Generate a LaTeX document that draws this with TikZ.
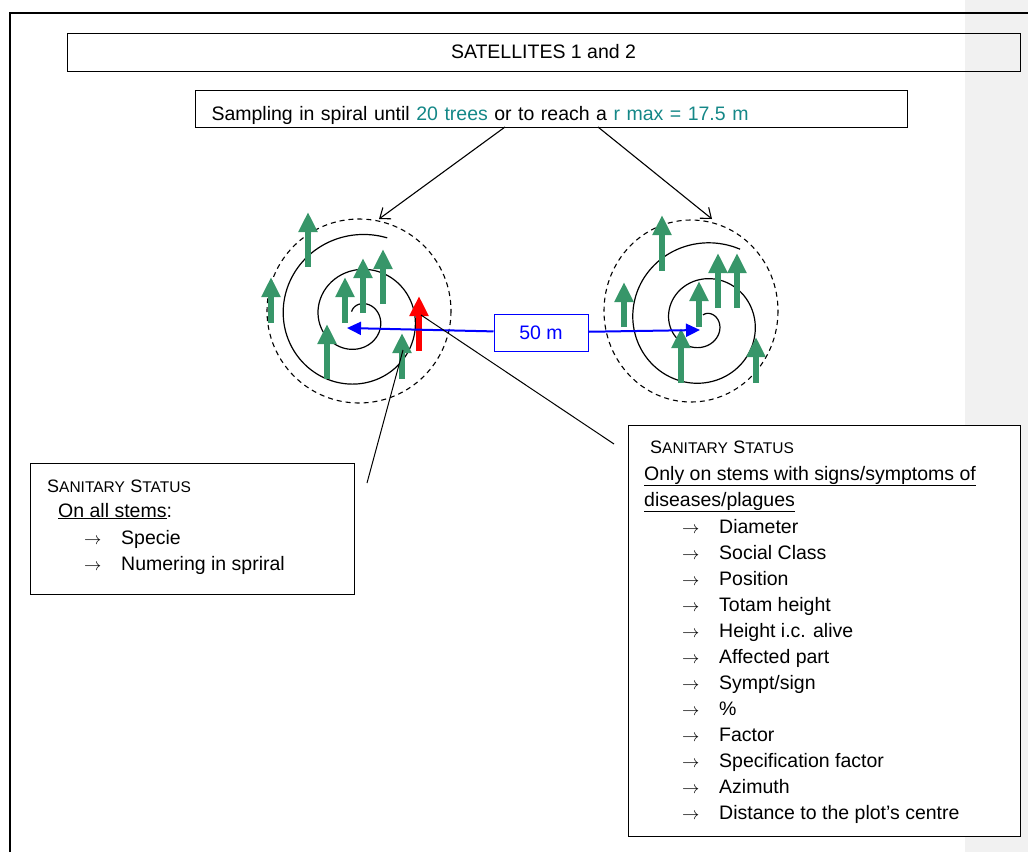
\documentclass[tikz,border=0pt]{standalone}
\usepackage{fontspec}
\setmainfont{Liberation Sans}
\usetikzlibrary{arrows.meta}
\definecolor{treegreen}{RGB}{55,150,105}
\definecolor{darkteal}{RGB}{20,135,135}
\definecolor{pagegrey}{RGB}{241,241,241}
\newcommand{\sanstat}{{\fontsize{18}{20}\selectfont S}{\fontsize{15.5}{20}\selectfont ANITARY} {\fontsize{18}{20}\selectfont S}{\fontsize{15.5}{20}\selectfont TATUS}}
\newcommand{\listarrow}{{\fontsize{17}{20}\selectfont$\rightarrow$}}
\tikzset{
  frame/.style={draw, line width=1pt, rectangle, inner sep=0pt},
  txt/.style={anchor=base west, inner sep=0pt},
  plotline/.style={dashed, dash pattern=on 5pt off 4pt, line width=1.1pt},
  spiral/.style={line width=1.2pt, smooth},
  tree/.style={line width=6pt, treegreen, -{Triangle[length=20pt,width=18pt]}},
  pointer/.style={line width=1.1pt, -{Straight Barb[length=9pt,width=14pt]}},
  distarrow/.style={line width=2pt, blue, -{Triangle[length=14pt,width=13pt]}},
  callout/.style={line width=1pt}
}
\begin{document}
\begin{tikzpicture}[x=1pt, y=-1pt, font=\fontsize{19.5}{26}\selectfont]
  \fill[pagegrey] (965,0) rectangle (1028,852);
  \useasboundingbox (0,0) rectangle (1028,852);
  \draw[line width=2.5pt] (10,852) -- (10,13) -- (1028,13);

  \node[frame, minimum width=953pt, minimum height=38pt] (title) at (543.5,52) {SATELLITES 1 and 2};
  \node[frame, anchor=north west, minimum width=710pt, minimum height=37pt, text width=680pt, inner xsep=16pt,
        text height=22pt, text depth=0pt] (sampling) at (195,90)
    {Sampling in spiral until \textcolor{darkteal}{20 trees} or to reach a \textcolor{darkteal}{r max = 17.5 m}};

  \coordinate (outA) at (505,127);
  \coordinate (outB) at (598,127);
  \coordinate (topA) at (379,219);
  \coordinate (topB) at (712,219);
  \draw[pointer] (outA) -- (topA);
  \draw[pointer] (outB) -- (topB);

  \draw[plotline] (359,311) circle[radius=92];
  \draw[plotline] (691,311) ellipse[x radius=87, y radius=91];
  \draw[spiral] plot[domain=225:1010, samples=150] ({358+(9+(\x-225)/360*35)*cos(\x)}, {318+(9+(\x-225)/360*35)*sin(\x)});
  \draw[spiral] plot[domain=270:1017, samples=150] ({703+(7+(\x-270)/360*36)*cos(\x)}, {322+(7+(\x-270)/360*36)*sin(\x)});

  \foreach \x/\yb/\yt in {308/267/212, 271/323/277, 345/323/277, 363/313/258, 383/304/249, 327/379/324, 402/379/333,
                          662/271/215, 624/327/282, 699/327/281, 718/308/253, 737/308/253, 681/383/328, 756/383/337}
    \draw[tree] (\x,\yb) -- (\x,\yt);
  \draw[tree, red] (419,351) -- (419,296);

  \node[frame, draw=blue, text=blue, minimum width=94pt, minimum height=37pt] (dist) at (541,332.5) {50 m};
  \coordinate (centreA) at (347,328);
  \coordinate (centreB) at (700,330);
  \draw[distarrow] (dist) -- (centreA);
  \draw[distarrow] (dist) -- (centreB);

  \coordinate (sick) at (421,315);
  \coordinate (calloutB) at (614,444);
  \coordinate (stem) at (403,350);
  \coordinate (calloutA) at (367,483);
  \draw[callout] (sick) -- (calloutB);
  \draw[callout] (stem) -- (calloutA);

  \node[frame, fill=white, anchor=north west, minimum width=324pt, minimum height=131pt] (boxA) at (30,463) {};
  \node[txt] (headA) at (47,492) {\sanstat};
  \node[txt] (stemsA) at (58,517) {\underline{On all stems}:};
  \node[txt] (arrA1) at (84,544) {\listarrow};
  \node[txt] (itemA1) at (121,544) {Specie};
  \node[txt] (arrA2) at (84,570) {\listarrow};
  \node[txt] (itemA2) at (121,570) {Numering in spriral};

  \node[frame, fill=white, anchor=north west, minimum width=392pt, minimum height=411pt] (boxB) at (628,425) {};
  \node[txt] (headB) at (650,453) {\sanstat};
  \node[txt] (stemsB) at (644,480) {\underline{Only on stems with signs/symptoms of}};
  \node[txt] (stemsB2) at (644,506) {\underline{diseases/plagues}};
  \foreach \entry [count=\i] in {Diameter, Social Class, Position, Totam height, Height i.c. alive, Affected part,
                                 Sympt/sign, \%, Factor, Specification factor, Azimuth, Distance to the plot’s centre} {
    \node[txt] (arrB\i) at (682,{507+26*\i}) {\listarrow};
    \node[txt] (itemB\i) at (719,{507+26*\i}) {\entry};
  }
\end{tikzpicture}
\end{document}
